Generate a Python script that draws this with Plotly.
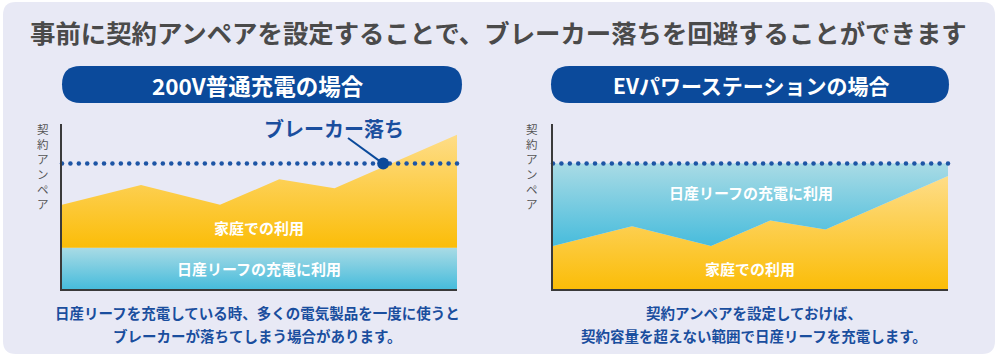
import numpy as np
import plotly.graph_objects as go

# ---------------- data ----------------
x_pos = [0, 0.2, 0.4, 0.55, 0.69, 1.0]          # time points (relative)
home_use = [26, 38, 26, 41.5, 36, 68.5]          # 家庭での利用
ev_charge_200v = 25                              # 200V charging (constant)
contract_amp = 76                                # 契約アンペア

title_text = "事前に契約アンペアを設定することで、ブレーカー落ちを回避することができます"
header_left = "200V普通充電の場合"
header_right = "EVパワーステーションの場合"
label_home = "家庭での利用"
label_ev = "日産リーフの充電に利用"
label_break = "ブレーカー落ち"
ylabel = "契約アンペア"
cap_left = ["日産リーフを充電している時、多くの電気製品を一度に使うと",
            "ブレーカーが落ちてしまう場合があります。"]
cap_right = ["契約アンペアを設定しておけば、",
             "契約容量を超えない範囲で日産リーフを充電します。"]

# ---------------- styles ----------------
W, H = 1000, 357
FONT = "Noto Sans CJK JP"
BG = "#e8e9f5"
NAVY = "#0b4a9b"
TEXT_BLUE = "#1a4e9e"
DOT_BLUE = "#1d55a5"
ORANGE_SCALE = [[0, "#fbbd08"], [1, "#fedd88"]]
CYAN_SCALE = [[0, "#47bcdc"], [1, "#a9dbe5"]]

def px(x, y):
    return x / W, 1 - y / H

fig = go.Figure()

ev_band = [ev_charge_200v] * len(x_pos)
total_left = [ev_charge_200v + h for h in home_use]
contract_line = [contract_amp] * len(x_pos)

# Left chart
fig.add_trace(go.Scatter(x=x_pos, y=ev_band, mode="lines", line=dict(width=0, color="rgba(0,0,0,0)"),
                         fill="tozeroy", fillgradient=dict(type="vertical", colorscale=CYAN_SCALE),
                         xaxis="x", yaxis="y", hoverinfo="skip", showlegend=False))
fig.add_trace(go.Scatter(x=x_pos, y=total_left, mode="lines", line=dict(width=0, color="rgba(0,0,0,0)"),
                         fill="tonexty", fillgradient=dict(type="vertical", colorscale=ORANGE_SCALE),
                         xaxis="x", yaxis="y", hoverinfo="skip", showlegend=False))
# Right chart
fig.add_trace(go.Scatter(x=x_pos, y=home_use, mode="lines", line=dict(width=0, color="rgba(0,0,0,0)"),
                         fill="tozeroy", fillgradient=dict(type="vertical", colorscale=ORANGE_SCALE),
                         xaxis="x2", yaxis="y2", hoverinfo="skip", showlegend=False))
fig.add_trace(go.Scatter(x=x_pos, y=contract_line, mode="lines", line=dict(width=0, color="rgba(0,0,0,0)"),
                         fill="tonexty", fillgradient=dict(type="vertical", colorscale=CYAN_SCALE),
                         xaxis="x2", yaxis="y2", hoverinfo="skip", showlegend=False))

# dotted contract lines (round dots)
dot_x = np.linspace(0, 1, 48)
for xa, ya in (("x", "y"), ("x2", "y2")):
    fig.add_trace(go.Scatter(x=dot_x, y=[contract_amp] * len(dot_x), mode="markers",
                             marker=dict(size=4.5, color=DOT_BLUE), cliponaxis=False,
                             xaxis=xa, yaxis=ya, hoverinfo="skip", showlegend=False))

# breaker-trip point: where total load crosses contract ampere
cx = None
for i in range(len(x_pos) - 1):
    a, b = total_left[i], total_left[i + 1]
    if a < contract_amp <= b:
        t = (contract_amp - a) / (b - a)
        cx = x_pos[i] + t * (x_pos[i + 1] - x_pos[i])
        break
cx = cx - 0.02
fig.add_trace(go.Scatter(x=[cx], y=[contract_amp], mode="markers",
                         marker=dict(size=12, color=NAVY), cliponaxis=False,
                         xaxis="x", yaxis="y", hoverinfo="skip", showlegend=False))

shapes = []
# rounded background
def rrect_path(x0, y0, x1, y1, r):
    def P(x, y):
        X, Y = px(x, y)
        return f"{X:.5f},{Y:.5f}"
    d = f"M {P(x0 + r, y0)} L {P(x1 - r, y0)} Q {P(x1, y0)} {P(x1, y0 + r)} "
    d += f"L {P(x1, y1 - r)} Q {P(x1, y1)} {P(x1 - r, y1)} "
    d += f"L {P(x0 + r, y1)} Q {P(x0, y1)} {P(x0, y1 - r)} "
    d += f"L {P(x0, y0 + r)} Q {P(x0, y0)} {P(x0 + r, y0)} Z"
    return d

shapes.append(dict(type="path", xref="paper", yref="paper", path=rrect_path(3, 2, 995, 354, 13),
                   fillcolor=BG, line=dict(width=0), layer="below"))
# header pills
shapes.append(dict(type="path", xref="paper", yref="paper", path=rrect_path(62, 66, 462, 103, 18.5),
                   fillcolor=NAVY, line=dict(width=0), layer="below"))
shapes.append(dict(type="path", xref="paper", yref="paper", path=rrect_path(551, 66, 949, 103, 18.5),
                   fillcolor=NAVY, line=dict(width=0), layer="below"))
# pointer line
shapes.append(dict(type="line", xref="x", yref="y", x0=0.724, y0=91.5, x1=cx, y1=contract_amp,
                   line=dict(color=NAVY, width=2)))

ann = []
def text(x, y, s, size, color, bold=True):
    X, Y = px(x, y)
    ann.append(dict(x=X, y=Y, xref="paper", yref="paper", text=(f"<b>{s}</b>" if bold else s),
                    showarrow=False, xanchor="center", yanchor="middle",
                    font=dict(family=FONT, size=size, color=color)))

text(498, 32, title_text, 25.4, "#4a4a4a")
text(258, 85, header_left, 22.5, "white")
text(751, 85, header_right, 21, "white")
text(334, 128, label_break, 20, TEXT_BLUE)
text(259, 228, label_home, 15, "white")
text(259, 268, label_ev, 15, "white")
text(751, 192, label_ev, 15, "white")
text(750, 268, label_home, 15, "white")
text(257, 312, cap_left[0], 14.5, TEXT_BLUE)
text(257, 335, cap_left[1], 14.5, TEXT_BLUE)
text(754, 312, cap_right[0], 14.5, TEXT_BLUE)
text(754, 335, cap_right[1], 14.5, TEXT_BLUE)
vlabel = "<br>".join(ylabel)
text(43, 166, vlabel, 11.5, "#555555", bold=False)
text(532, 166, vlabel, 11.5, "#555555", bold=False)

ax_common = dict(range=[0, 1], showgrid=False, zeroline=False, showticklabels=False, ticks="",
                 showline=True, linecolor="#3a3a3a", linewidth=2, fixedrange=True)
ay_common = dict(range=[0, 100], showgrid=False, zeroline=False, showticklabels=False, ticks="",
                 showline=True, linecolor="#3a3a3a", linewidth=2, fixedrange=True)
ydom = [(H - 289) / H, (H - 124) / H]

fig.update_layout(
    width=W, height=H, margin=dict(l=0, r=0, t=0, b=0),
    paper_bgcolor="white", plot_bgcolor="rgba(0,0,0,0)",
    xaxis=dict(domain=[62 / W, 457 / W], anchor="y", **ax_common),
    yaxis=dict(domain=ydom, anchor="x", **ay_common),
    xaxis2=dict(domain=[553 / W, 948 / W], anchor="y2", **ax_common),
    yaxis2=dict(domain=ydom, anchor="x2", **ay_common),
    shapes=shapes, annotations=ann, showlegend=False,
)

fig.write_html("out.html", config={"displayModeBar": False},
               post_script="document.body.style.margin='0';document.body.style.overflow='hidden';")
